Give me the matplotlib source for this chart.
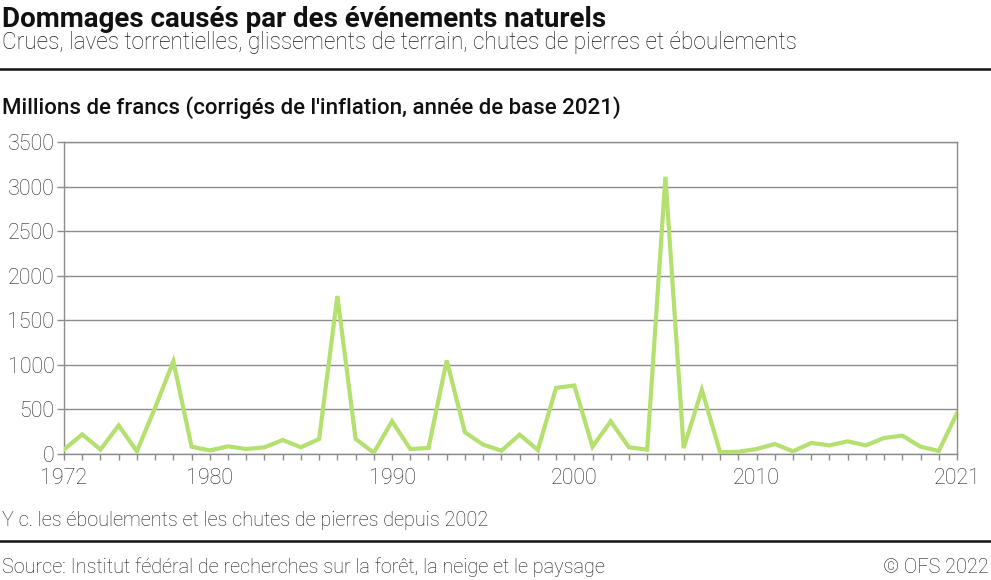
import matplotlib
matplotlib.use("Agg")
import matplotlib.pyplot as plt
from matplotlib.lines import Line2D

plt.rcParams['font.family'] = ['Roboto', 'DejaVu Sans']

years = list(range(1972, 2022))
values = [50, 220, 50, 320, 30, 520, 1040, 82, 40, 86, 56, 75, 157, 75, 169,
          1772, 169, 15, 367, 56, 67, 1049, 243, 105, 37, 217, 45, 742, 768,
          82, 367, 75, 49, 3110, 67, 719, 20, 25, 56, 112, 30, 124, 97, 142,
          97, 180, 206, 82, 34, 457]
ytick_vals = [0, 500, 1000, 1500, 2000, 2500, 3000, 3500]
xtick_labels = [1972, 1980, 1990, 2000, 2010, 2021]

title = "Dommages causés par des événements naturels"
subtitle = "Crues, laves torrentielles, glissements de terrain, chutes de pierres et éboulements"
ylabel = "Millions de francs (corrigés de l'inflation, année de base 2021)"
footnote = "Y c. les éboulements et les chutes de pierres depuis 2002"
source = "Source: Institut fédéral de recherches sur la forêt, la neige et le paysage"
copyright_txt = "© OFS 2022"

W, H = 991, 580
fig = plt.figure(figsize=(W / 100, H / 100), dpi=100)
ax = fig.add_axes([64 / W, 1 - 454 / H, (957 - 64) / W, (454 - 142) / H])

grid_c = '#8c8c8c'
ax.plot(years, values, color='#b3e06f', lw=3.0, solid_joinstyle='miter', zorder=3)
ax.set_xlim(1972, 2021)
ax.set_ylim(0, 3500)
ax.set_yticks(ytick_vals)
ax.set_xticks(years, minor=True)
ax.set_xticks(xtick_labels)
ax.yaxis.grid(True, color=grid_c, lw=1.0)
ax.set_axisbelow(True)
for s in ['left', 'right', 'bottom', 'top']:
    ax.spines[s].set_color(grid_c)
    ax.spines[s].set_linewidth(1.0)
ax.tick_params(axis='y', length=5, width=1, color=grid_c, labelsize=15.5,
               labelcolor='#2a2a2a', pad=2)
ax.tick_params(axis='x', which='both', length=4, width=1, color=grid_c,
               labelsize=15.5, labelcolor='#2a2a2a', pad=6)
for lab in ax.get_xticklabels() + ax.get_yticklabels():
    lab.set_fontweight('light')

fig.text(2 / W, 1 - 27 / H, title, fontsize=20, fontweight='bold', color='#111111', va='baseline')
fig.text(2 / W, 1 - 49 / H, subtitle, fontsize=16.3, fontweight='light', color='#1a1a1a', va='baseline')
fig.text(2 / W, 1 - 114 / H, ylabel, fontsize=16, fontweight='medium', color='#111111', va='baseline')
fig.text(2 / W, 1 - 526 / H, footnote, fontsize=14.3, fontweight='light', color='#1a1a1a', va='baseline')
fig.text(2 / W, 1 - 573 / H, source, fontsize=14.3, fontweight='light', color='#1a1a1a', va='baseline')
fig.text(989 / W, 1 - 573 / H, copyright_txt, fontsize=14.3, fontweight='light', color='#1a1a1a',
         va='baseline', ha='right')

for yy in [68.5, 540.5]:
    fig.add_artist(Line2D([0, 1], [1 - yy / H, 1 - yy / H], color='#111111', lw=1.8,
                          transform=fig.transFigure))

fig.savefig('out.png', dpi=100)
